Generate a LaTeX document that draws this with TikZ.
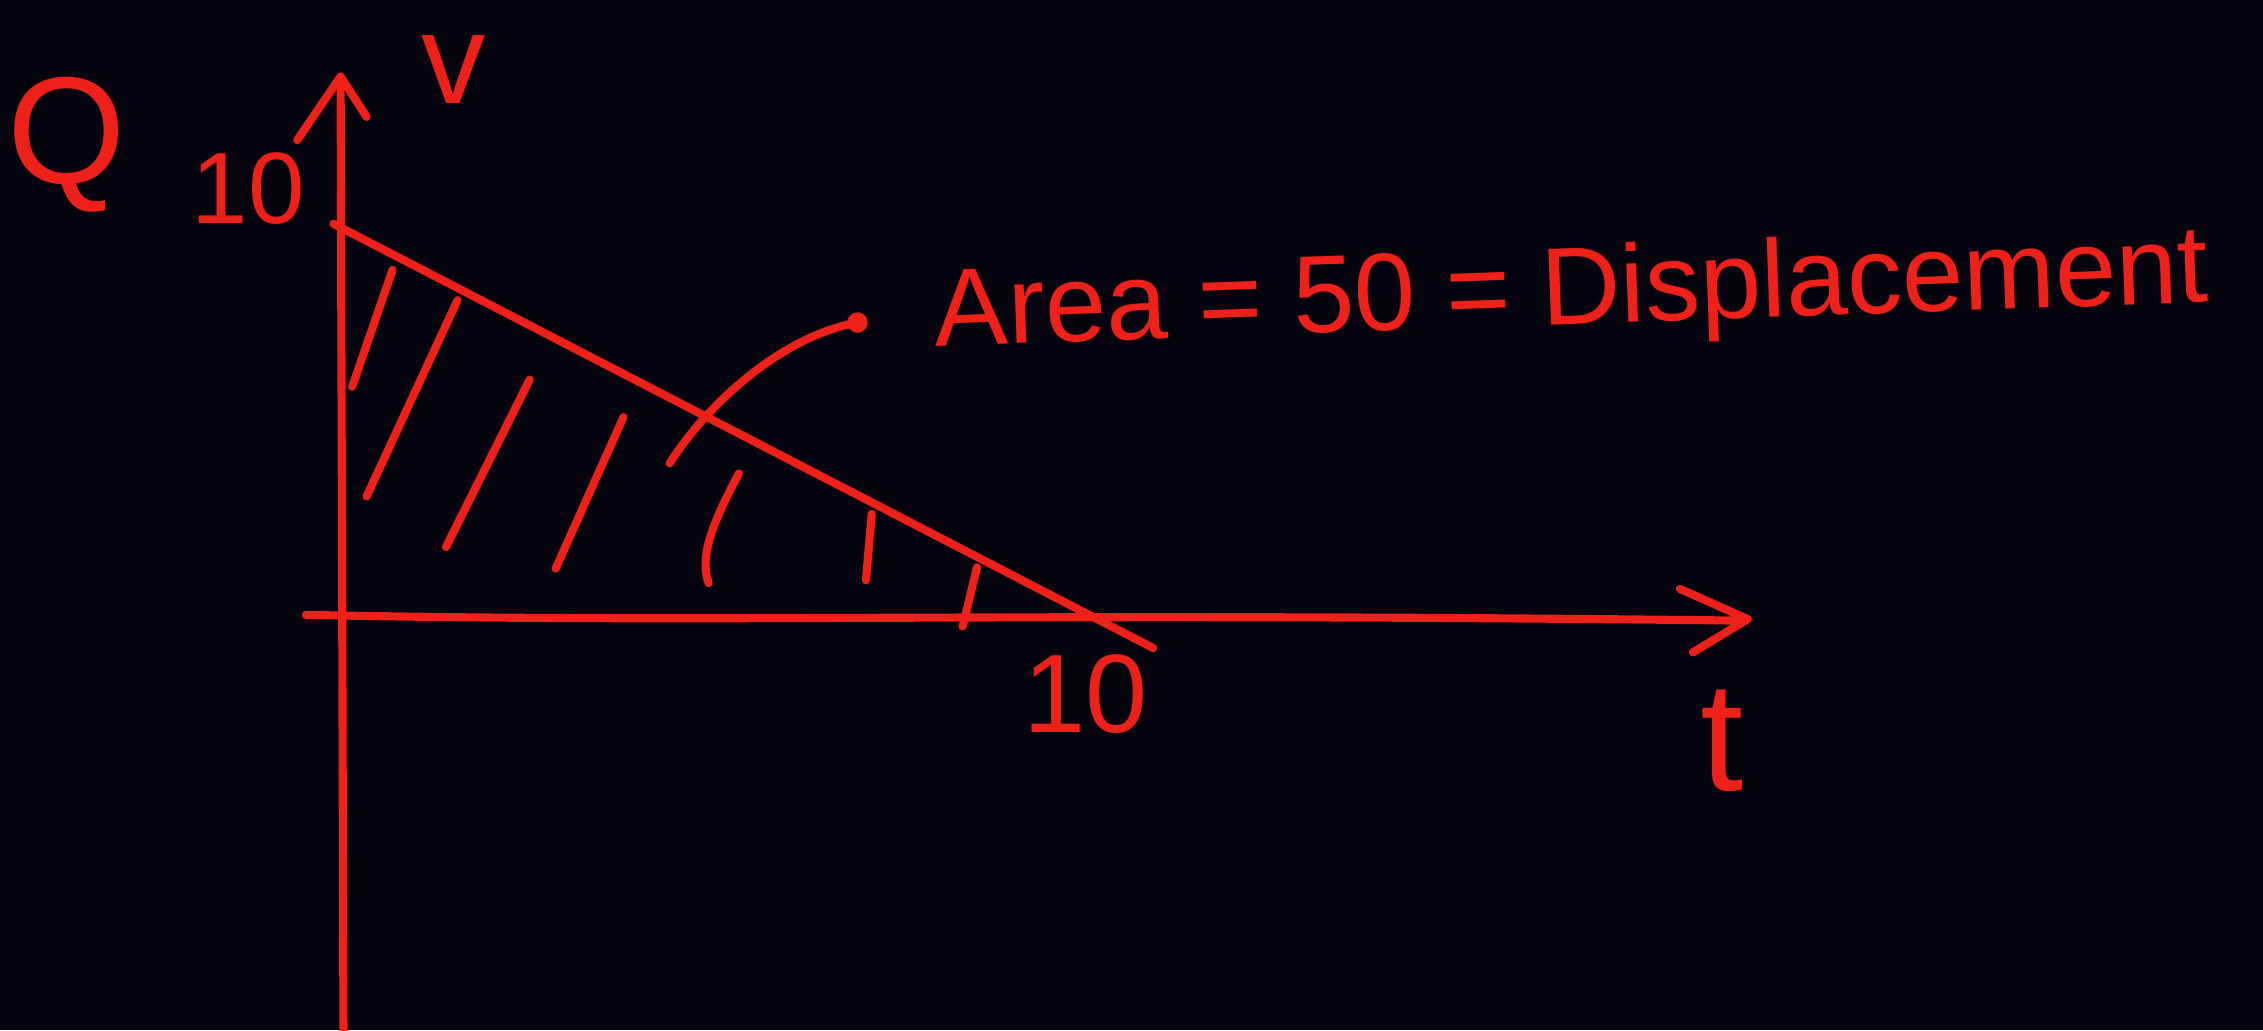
\documentclass[tikz,border=0pt]{standalone}
\usepackage{fontspec}
\setmainfont{Liberation Sans}
\usetikzlibrary{arrows.meta}
\definecolor{ink}{RGB}{238,32,26}
\definecolor{board}{RGB}{4,3,14}
\begin{document}
\begin{tikzpicture}[x=0.015cm,y=-0.015cm,
  pen/.style={draw=ink,line width=2.4pt,line cap=round,line join=round},
  lbl/.style={text=ink,inner sep=0pt}]
\fill[board] (0,0) rectangle (1568,714);
\useasboundingbox (0,0) rectangle (1568,714);
% axes
\coordinate (ybot) at (238,720);
\coordinate (ytip) at (236,53);
\coordinate (xorig) at (212,426);
\coordinate (xtip) at (1211,429);
\draw[pen] (ybot) -- (ytip);
\draw[pen] (206,97) -- (ytip) -- (254,81);
\draw[pen] (xorig) .. controls (500,432) and (700,424) .. (1205,430);
\draw[pen] (1164,408) -- (xtip) -- (1173,452);
% line v(t)
\coordinate (vtop) at (231,155);
\coordinate (vend) at (799,449);
\draw[pen] (vtop) -- (vend);
% hatching
\draw[pen] (272,187) -- (244,268);
\draw[pen] (317,208) -- (254,344);
\draw[pen] (367,263) -- (309,379);
\draw[pen] (432,289) -- (385,394);
\draw[pen] (512,328) .. controls (495,360) and (484,385) .. (491,404);
\draw[pen] (604,356) -- (600,402);
\draw[pen] (677,393) -- (667,434);
% labels
\node[lbl,font=\fontsize{45}{50}\selectfont] (q) at (46,100) {Q};
\node[lbl,font=\fontsize{30}{34}\selectfont] (ten1) at (172,131) {10};
\node[lbl,font=\fontsize{38}{42}\selectfont] (v) at (314,48) {v};
\node[lbl,font=\fontsize{33}{38}\selectfont] (ten2) at (752,481) {10};
\node[lbl,font=\fontsize{46}{50}\selectfont] (t) at (1193,513) {t};
\node[lbl,font=\fontsize{32.6}{38}\selectfont,anchor=base west,rotate=2] (area) at (648,240) {Area = 50 = Displacement};
% pointer
\coordinate (pstart) at (464,321);
\coordinate (ptip) at (601,222);
\draw[pen,-{Circle[length=6pt]}] (pstart) .. controls (490,280) and (540,235) .. (ptip);
\end{tikzpicture}
\end{document}
